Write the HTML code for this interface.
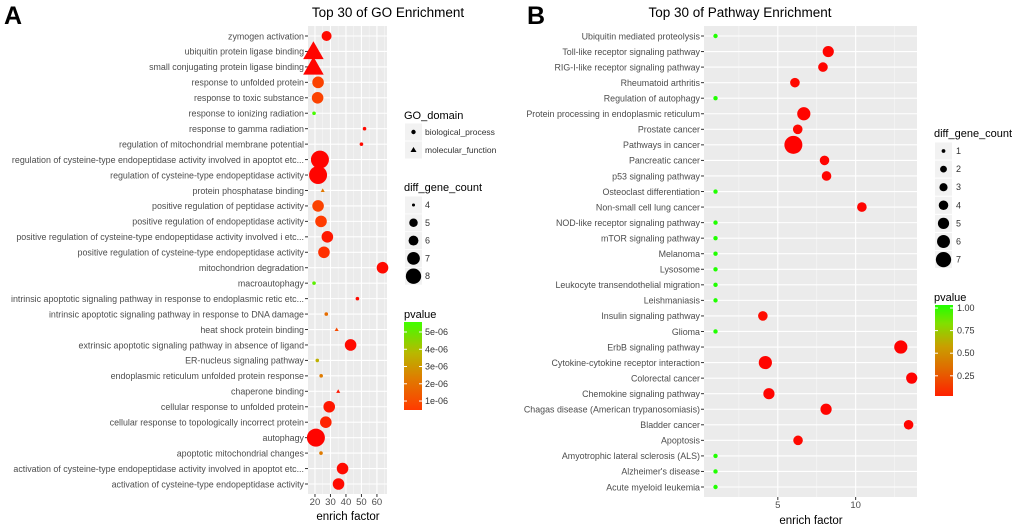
<!DOCTYPE html>
<html><head><meta charset="utf-8"><style>
body{margin:0;background:#fff;}
svg{display:block;font-family:"Liberation Sans",sans-serif;}
</style></head><body>
<svg id="c" width="1020" height="529" viewBox="0 0 1020 529" xmlns="http://www.w3.org/2000/svg">
<defs>
<linearGradient id="gA" x1="0" y1="1" x2="0" y2="0">
<stop offset="0" stop-color="#ff3a00"/><stop offset="0.35" stop-color="#e07a00"/><stop offset="0.65" stop-color="#b8b800"/><stop offset="1" stop-color="#40ff00"/>
</linearGradient>
<linearGradient id="gB" x1="0" y1="1" x2="0" y2="0">
<stop offset="0" stop-color="#ff2000"/><stop offset="0.3" stop-color="#e06a00"/><stop offset="0.55" stop-color="#c8a000"/><stop offset="0.8" stop-color="#80e000"/><stop offset="1" stop-color="#20ff00"/>
</linearGradient>
</defs>
</svg>
<script>
// ---------- Panel A data ----------
const goTerms = ["zymogen activation","ubiquitin protein ligase binding","small conjugating protein ligase binding","response to unfolded protein","response to toxic substance","response to ionizing radiation","response to gamma radiation","regulation of mitochondrial membrane potential","regulation of cysteine-type endopeptidase activity involved in apoptot etc...","regulation of cysteine-type endopeptidase activity","protein phosphatase binding","positive regulation of peptidase activity","positive regulation of endopeptidase activity","positive regulation of cysteine-type endopeptidase activity involved i etc...","positive regulation of cysteine-type endopeptidase activity","mitochondrion degradation","macroautophagy","intrinsic apoptotic signaling pathway in response to endoplasmic retic etc...","intrinsic apoptotic signaling pathway in response to DNA damage","heat shock protein binding","extrinsic apoptotic signaling pathway in absence of ligand","ER-nucleus signaling pathway","endoplasmic reticulum unfolded protein response","chaperone binding","cellular response to unfolded protein","cellular response to topologically incorrect protein","autophagy","apoptotic mitochondrial changes","activation of cysteine-type endopeptidase activity involved in apoptot etc...","activation of cysteine-type endopeptidase activity"];
const goEnrich = [27.5,19,19,22,21.7,19.4,52,50,23.2,22,25,22,23.9,28,25.8,63.6,19.4,47.4,27.3,34,43,21.5,24,35,29.2,27,20.6,23.9,37.8,35.2];
const goCount = [5,8,8,6,6,4,4,4,8,8,4,6,6,6,6,6,4,4,4,4,6,4,4,4,6,6,8,4,6,6];
const goP = [0.1,0.05,0.05,0.7,0.7,5.5,0.1,0.1,0.05,0.05,2.2,0.7,0.5,0.2,0.4,0.1,5.2,0.1,1.9,0.9,0.1,3.6,2.3,0.2,0.2,0.3,0.05,2.3,0.1,0.1];
const goDomain = ["bp","mf","mf","bp","bp","bp","bp","bp","bp","bp","mf","bp","bp","bp","bp","bp","bp","bp","bp","mf","bp","bp","bp","mf","bp","bp","bp","bp","bp","bp"];
const goTicks = [20,30,40,50,60];
const goCountLegend = [4,5,6,7,8];
const goPTicks = [5,4,3,2,1];
// ---------- Panel B data ----------
const pwTerms = ["Ubiquitin mediated proteolysis","Toll-like receptor signaling pathway","RIG-I-like receptor signaling pathway","Rheumatoid arthritis","Regulation of autophagy","Protein processing in endoplasmic reticulum","Prostate cancer","Pathways in cancer","Pancreatic cancer","p53 signaling pathway","Osteoclast differentiation","Non-small cell lung cancer","NOD-like receptor signaling pathway","mTOR signaling pathway","Melanoma","Lysosome","Leukocyte transendothelial migration","Leishmaniasis","Insulin signaling pathway","Glioma","ErbB signaling pathway","Cytokine-cytokine receptor interaction","Colorectal cancer","Chemokine signaling pathway","Chagas disease (American trypanosomiasis)","Bladder cancer","Apoptosis","Amyotrophic lateral sclerosis (ALS)","Alzheimer's disease","Acute myeloid leukemia"];
const pwEnrich = [1,8.24,7.9,6.1,1,6.67,6.28,6.0,8.0,8.13,1,10.4,1,1,1,1,1,1,4.04,1,12.9,4.2,13.6,4.43,8.1,13.4,6.3,1,1,1];
const pwCount = [1,4,3,3,1,5,3,7,3,3,1,3,1,1,1,1,1,1,3,1,5,5,4,4,4,3,3,1,1,1];
const pwP = [1,0.01,0.01,0.02,1,0.01,0.02,0.005,0.01,0.01,1,0.01,1,1,1,1,1,1,0.03,1,0.005,0.01,0.005,0.01,0.01,0.01,0.02,1,1,1];
const pwTicks = [5,10];
const pwCountLegend = [1,2,3,4,5,6,7];
const pwPTicks = [1.00,0.75,0.50,0.25];

const svg = document.getElementById('c');
const NS = 'http://www.w3.org/2000/svg';
function mk(tag, attrs, parent){
  const e = document.createElementNS(NS, tag);
  for (const k in attrs) e.setAttribute(k, attrs[k]);
  (parent||svg).appendChild(e);
  return e;
}
function txt(s, attrs){ const e = mk('text', attrs); e.textContent = s; return e; }
function lerp(a,b,t){return Math.round(a+(b-a)*t);}
function interp(st,t){
  t=Math.max(st[0][0],Math.min(1,t));
  for(let i=1;i<st.length;i++){ if(t<=st[i][0]){ const a=st[i-1],b=st[i]; const u=(t-a[0])/(b[0]-a[0]); return `rgb(${lerp(a[1][0],b[1][0],u)},${lerp(a[1][1],b[1][1],u)},${lerp(a[1][2],b[1][2],u)})`; } }
  const l=st[st.length-1][1]; return `rgb(${l[0]},${l[1]},${l[2]})`;
}
function gradColor(t){
  return interp([[-0.09,[255,0,0]],[0,[255,58,0]],[0.35,[224,122,0]],[0.65,[184,184,0]],[1,[64,255,0]]],t);
}
function gradColorB(t){
  return interp([[0,[255,0,0]],[0.05,[255,20,0]],[0.3,[224,106,0]],[0.55,[200,160,0]],[0.8,[128,224,0]],[1,[32,255,0]]],t);
}

function panel(cfg){
  const {L,R,T,B,xmin,xmax,terms,vals,counts,colors,shapes,ticks,minors,rad,name} = cfg;
  const xs = v => L + (v-xmin)/(xmax-xmin)*(R-L);
  const n = terms.length;
  const y0 = T+10, step = (B-T-20)/(n-1);
  const ys = i => y0 + i*step;
  const g = mk('g',{});
  
  
  mk('rect',{x:L,y:T,width:R-L,height:B-T,fill:'#ebebeb'},g);
  minors.forEach(v=>{ if(v>xmin&&v<xmax) mk('line',{x1:xs(v),x2:xs(v),y1:T,y2:B,stroke:'#f6f6f6','stroke-width':0.6},g); });
  ticks.forEach(v=>{
    mk('line',{x1:xs(v),x2:xs(v),y1:T,y2:B,stroke:'#fff','stroke-width':1.1},g);
    mk('line',{x1:xs(v),x2:xs(v),y1:B,y2:B+3,stroke:'#333','stroke-width':1},g);
    const t = txt(String(v),{x:xs(v),y:B+11,'font-size':9.5,fill:'#4d4d4d','text-anchor':'middle'});
    
    
  });
  for(let i=0;i<n;i++){
    const y = ys(i);
    mk('line',{x1:L,x2:R,y1:y,y2:y,stroke:'#fff','stroke-width':1.1},g);
    mk('line',{x1:L-3,x2:L,y1:y,y2:y,stroke:'#333','stroke-width':1},g);
    const t = txt(terms[i],{x:L-4,y:y+3.3,'font-size':8.9,fill:'#4d4d4d','text-anchor':'end'});
    
    
  }
  for(let i=0;i<n;i++){
    const x = xs(vals[i]), y = ys(i), r = rad(counts[i]);
    let m;
    if(shapes && shapes[i]==='mf'){
      const h = r*1.9;
      m = mk('polygon',{points:`${x},${y-h*0.6} ${x-h*0.6},${y+h*0.45} ${x+h*0.6},${y+h*0.45}`,fill:colors[i]});
    } else {
      m = mk('circle',{cx:x,cy:y,r:r,fill:colors[i]});
    }
    
    
  }
}

// Panel A
const radA = c => ({4:1.8,5:5,6:5.8,7:7.5,8:9})[c] || 2;
panel({L:308,R:387,T:26,B:494,xmin:15.5,xmax:66.5,terms:goTerms,vals:goEnrich,counts:goCount,
  colors:goP.map(p=>gradColor((p-0.48)/(5.58-0.48))),shapes:goDomain,ticks:goTicks,minors:[25,35,45,55,65],rad:radA,name:'go'});
// Panel B
const radB = c => ({1:2.2,2:4,3:4.8,4:5.6,5:6.6,6:7.6,7:9})[c] || 2;
panel({L:704,R:917,T:26,B:497,xmin:0.26,xmax:13.94,terms:pwTerms,vals:pwEnrich,counts:pwCount,
  colors:pwP.map(p=>gradColorB(p)),shapes:null,ticks:pwTicks,minors:[2.5,7.5,12.5],rad:radB,name:'pathway'});

// Titles
let e;
e = txt('A',{x:4,y:24,'font-size':25,'font-weight':'bold',fill:'#000'});
 
e = txt('B',{x:527,y:24,'font-size':25,'font-weight':'bold',fill:'#000'});
 
e = txt('Top 30 of GO Enrichment',{x:388,y:17,'font-size':13.5,fill:'#000','text-anchor':'middle'});
 
e = txt('Top 30 of Pathway Enrichment',{x:740,y:17,'font-size':13.5,fill:'#000','text-anchor':'middle'});
 
e = txt('enrich factor',{x:348,y:520,'font-size':11.5,fill:'#000','text-anchor':'middle'});
 
e = txt('enrich factor',{x:811,y:524,'font-size':11.5,fill:'#000','text-anchor':'middle'});
 

// Legend A: GO_domain
e = txt('GO_domain',{x:404,y:119,'font-size':11,fill:'#000'});
 
[['biological_process','bp'],['molecular_function','mf']].forEach((d,i)=>{
  const y = 132+i*18;
  mk('rect',{x:405,y:y-8.5,width:17,height:17,fill:'#f2f2f2'});
  let m;
  if(d[1]==='bp') m = mk('circle',{cx:413.5,cy:y,r:2.2,fill:'#000'});
  else m = mk('polygon',{points:`413.5,${y-3} 410.5,${y+2} 416.5,${y+2}`,fill:'#000'});
   
  const t = txt(d[0],{x:425,y:y+3,'font-size':8.5,fill:'#333'});
   
});
e = txt('diff_gene_count',{x:404,y:191,'font-size':11,fill:'#000'});
 
goCountLegend.forEach((c,i)=>{
  const y = 205+i*17.8;
  mk('rect',{x:405,y:y-8.5,width:17,height:17,fill:'#f2f2f2'});
  const m = mk('circle',{cx:413.5,cy:y,r:radA(c)*0.85,fill:'#000'});
   
  const t = txt(String(c),{x:425,y:y+3,'font-size':9,fill:'#333'});
   
});
e = txt('pvalue',{x:404,y:318,'font-size':11,fill:'#000'});
 
e = mk('rect',{x:404,y:322,width:18,height:88,fill:'url(#gA)'});
 
goPTicks.forEach(v=>{
  const y = 322 + (5.58-v)/(5.58-0.48)*88;
  mk('line',{x1:404,x2:407,y1:y,y2:y,stroke:'#fff'}); mk('line',{x1:419,x2:422,y1:y,y2:y,stroke:'#fff'});
  const t = txt(v+'e-06',{x:425,y:y+3,'font-size':9,fill:'#333'});
   
});

// Legend B
e = txt('diff_gene_count',{x:934,y:137,'font-size':11,fill:'#000'});
 
pwCountLegend.forEach((c,i)=>{
  const y = 151+i*18.1;
  mk('rect',{x:935,y:y-8.5,width:17,height:17,fill:'#f2f2f2'});
  const m = mk('circle',{cx:943.5,cy:y,r:Math.max(1.8,radB(c)*0.85),fill:'#000'});
   
  const t = txt(String(c),{x:956,y:y+3,'font-size':9,fill:'#333'});
   
});
e = txt('pvalue',{x:934,y:301,'font-size':11,fill:'#000'});
 
e = mk('rect',{x:935,y:305,width:18,height:91,fill:'url(#gB)'});
 
pwPTicks.forEach(v=>{
  const y = 308 + (1-v)/0.25*22.6;
  mk('line',{x1:935,x2:938,y1:y,y2:y,stroke:'#fff'}); mk('line',{x1:950,x2:953,y1:y,y2:y,stroke:'#fff'});
  const t = txt(v.toFixed(2),{x:957,y:y+3,'font-size':9,fill:'#333'});
   
});
</script>
</body></html>
